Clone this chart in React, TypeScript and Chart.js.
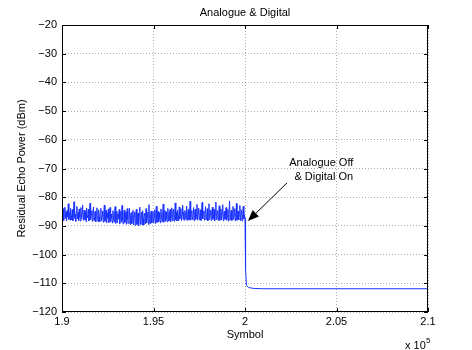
import React, { useEffect, useRef } from "react";
import { Chart, registerables } from "chart.js";

Chart.register(...registerables);

const titleText = "Analogue & Digital";
const xLabel = "Symbol";
const yLabel = "Residual Echo Power (dBm)";
const annotationLines = ["Analogue Off", "& Digital On"];

const xTicks = [190000, 195000, 200000, 205000, 210000];
const xTickLabels = ["1.9", "1.95", "2", "2.05", "2.1"];
const yTicks = [-20, -30, -40, -50, -60, -70, -80, -90, -100, -110, -120];

const noiseStart = 190000;
const noiseStep = 31.25;
const noiseValues = [
  -85.6, -87.9, -84.0, -88.1, -86.2, -83.5, -87.4, -85.1, -88.3, -84.6,
  -86.8, -82.3, -87.7, -85.4, -88.0, -83.9, -86.5, -87.8, -84.3, -88.2,
  -85.7, -81.6, -87.3, -86.0, -88.4, -84.8, -83.2, -87.6, -85.3, -88.1,
  -84.1, -86.9, -88.3, -83.6, -87.5, -85.8, -82.7, -88.0, -86.1, -84.5,
  -87.9, -85.0, -88.5, -83.8, -86.6, -87.2, -84.2, -88.3, -85.5, -82.1,
  -87.8, -86.3, -84.7, -88.4, -85.2, -83.4, -88.1, -86.7, -84.9, -88.6,
  -85.9, -83.7, -87.7, -88.5,
  -84.4, -86.8, -88.6, -85.3, -83.9, -88.2, -86.4, -84.8, -88.7, -85.7,
  -82.8, -88.4, -86.0, -84.6, -88.9, -85.5, -87.3, -84.1, -88.8, -86.2,
  -83.6, -88.5, -85.9, -87.1, -89.0, -84.7, -86.5, -88.6, -85.1, -83.3,
  -89.1, -86.6, -84.9, -88.9, -85.8, -87.5, -84.3, -89.2, -86.1, -85.0,
  -88.7, -82.9, -87.9, -89.3, -85.6, -84.5, -88.8, -86.9, -85.2, -89.4,
  -84.0, -87.6, -89.1, -85.9, -83.8, -89.5, -86.3, -85.4, -89.2, -87.0,
  -84.6, -89.6, -86.7, -85.1,
  -89.8, -85.8, -84.2, -89.5, -87.2, -85.5, -89.9, -86.0, -83.5, -89.4,
  -86.8, -85.3, -89.7, -84.7, -87.4, -89.6, -85.7, -86.4, -89.3, -84.0,
  -88.9, -86.9, -85.2, -89.5, -82.6, -87.8, -89.2, -85.9, -84.8, -89.0,
  -86.5, -85.0, -88.9, -87.1, -84.4, -89.1, -85.6, -83.2, -88.8, -86.2,
  -84.9, -88.6, -85.4, -87.3, -88.9, -84.1, -86.6, -88.5, -85.8, -82.4,
  -88.7, -86.0, -84.6, -88.4, -85.1, -87.5, -88.6, -83.9, -86.3, -88.3,
  -85.5, -84.3, -88.5, -86.8,
  -83.7, -88.2, -85.6, -84.2, -88.4, -86.1, -82.0, -87.9, -85.3, -88.3,
  -84.5, -86.7, -88.1, -83.4, -87.6, -85.8, -84.0, -88.2, -86.3, -82.8,
  -87.8, -85.1, -88.0, -84.6, -86.5, -87.7, -83.1, -88.1, -85.9, -84.3,
  -87.9, -86.0, -81.4, -88.0, -85.4, -84.7, -87.8, -86.6, -83.6, -88.2,
  -85.0, -84.1, -87.7, -86.2, -82.5, -88.0, -85.7, -83.8, -87.9, -86.4,
  -84.4, -88.1, -85.2, -81.8, -87.6, -86.0, -84.8, -88.0, -85.5, -83.3,
  -87.8, -86.7, -84.0, -88.2,
  -85.3, -82.3, -87.9, -86.1, -84.5, -88.1, -85.0, -83.5, -87.7, -86.5,
  -84.2, -88.2, -85.7, -81.7, -87.8, -86.0, -84.7, -88.0, -85.4, -83.0,
  -88.1, -86.3, -84.1, -87.9, -85.8, -82.6, -88.2, -86.2, -84.9, -87.7,
  -85.1, -83.6, -88.0, -86.6, -84.3, -88.3, -85.6, -81.3, -87.9, -86.0,
  -84.6, -88.1, -85.2, -83.2, -87.8, -86.4, -84.0, -88.2, -85.9, -82.2,
  -88.0, -86.1, -84.8, -87.9, -85.3, -82.9, -88.1, -86.5, -84.4, -88.3,
  -85.7, -83.1, -87.6, -86.2,
];
const tailX = [200000, 200030, 200080, 200200, 200500, 201000, 210000];
const tailY = [-87.5, -105.0, -110.8, -111.5, -111.8, -111.9, -111.9];

// annotation anchors in data units
const arrowTip = { x: 200160, y: -88.3 };
const arrowTail = { x: 202300, y: -75.0 };
const textAnchor1 = { x: 202420, y: -68.2 };
const textAnchor2 = { x: 202700, y: -72.8 };

const FONT = "'Liberation Sans', Arial, Helvetica, sans-serif";

export default function App() {
  const ref = useRef<HTMLCanvasElement | null>(null);

  useEffect(() => {
    document.body.style.margin = "0";
    const canvas = ref.current;
    if (!canvas) return;

    const points: { x: number; y: number }[] = noiseValues.map((v, i) => ({
      x: noiseStart + i * noiseStep,
      y: v,
    }));
    tailX.forEach((x, i) => points.push({ x, y: tailY[i] }));

    const decor = {
      id: "decor",
      afterDraw(chart: any) {
        const ctx = chart.ctx as CanvasRenderingContext2D;
        const { left, right, top, bottom } = chart.chartArea;
        const xs = chart.scales.x;
        const ys = chart.scales.y;
        ctx.save();
        // box
        ctx.strokeStyle = "#000";
        ctx.lineWidth = 1;
        ctx.strokeRect(Math.round(left) + 0.5, Math.round(top) + 0.5, Math.round(right - left) - 1, Math.round(bottom - top) - 1);
        // inner ticks
        ctx.beginPath();
        xTicks.forEach((t) => {
          const px = Math.round(xs.getPixelForValue(t)) + 0.5;
          ctx.moveTo(px, bottom);
          ctx.lineTo(px, bottom - 4);
          ctx.moveTo(px, top);
          ctx.lineTo(px, top + 4);
        });
        yTicks.forEach((t) => {
          const py = Math.round(ys.getPixelForValue(t)) + 0.5;
          ctx.moveTo(left, py);
          ctx.lineTo(left + 4, py);
          ctx.moveTo(right, py);
          ctx.lineTo(right - 4, py);
        });
        ctx.stroke();

        ctx.fillStyle = "#000";
        ctx.font = `11px ${FONT}`;
        ctx.textAlign = "center";
        ctx.textBaseline = "middle";
        const cx = (left + right) / 2;
        ctx.fillText(titleText, cx, top - 12);
        ctx.fillText(xLabel, cx, bottom + 23);
        // x 10^5
        ctx.textAlign = "left";
        ctx.fillText("x 10", right - 23, bottom + 34);
        ctx.font = `8px ${FONT}`;
        ctx.fillText("5", right - 2, bottom + 29);
        // y label
        ctx.font = `11px ${FONT}`;
        ctx.save();
        ctx.translate(22, (top + bottom) / 2);
        ctx.rotate(-Math.PI / 2);
        ctx.textAlign = "center";
        ctx.fillText(yLabel, 0, 0);
        ctx.restore();

        // annotation text
        ctx.textAlign = "left";
        ctx.fillText(annotationLines[0], xs.getPixelForValue(textAnchor1.x), ys.getPixelForValue(textAnchor1.y));
        ctx.fillText(annotationLines[1], xs.getPixelForValue(textAnchor2.x), ys.getPixelForValue(textAnchor2.y));

        // arrow
        const tx = xs.getPixelForValue(arrowTip.x);
        const ty = ys.getPixelForValue(arrowTip.y);
        const sx = xs.getPixelForValue(arrowTail.x);
        const sy = ys.getPixelForValue(arrowTail.y);
        const ang = Math.atan2(ty - sy, tx - sx);
        const headLen = 11;
        const headW = 4.5;
        const bx = tx - headLen * Math.cos(ang);
        const by = ty - headLen * Math.sin(ang);
        ctx.beginPath();
        ctx.moveTo(sx, sy);
        ctx.lineTo(bx, by);
        ctx.stroke();
        ctx.beginPath();
        ctx.moveTo(tx, ty);
        ctx.lineTo(bx + headW * Math.sin(ang), by - headW * Math.cos(ang));
        ctx.lineTo(bx - headW * Math.sin(ang), by + headW * Math.cos(ang));
        ctx.closePath();
        ctx.fill();
        ctx.restore();
      },
    };

    const chart = new Chart(canvas, {
      type: "line",
      data: {
        datasets: [
          {
            data: points,
            borderColor: "rgb(25,50,255)",
            borderWidth: 1,
            pointRadius: 0,
            tension: 0,
            fill: false,
          },
        ],
      },
      options: {
        animation: false,
        responsive: false,
        devicePixelRatio: 1,
        layout: { padding: { top: 25, right: 44, left: 0, bottom: 0 } },
        plugins: { legend: { display: false }, tooltip: { enabled: false }, title: { display: false } },
        scales: {
          x: {
            type: "linear",
            min: 190000,
            max: 210000,
            afterFit: (s: any) => {
              s.height = 38;
            },
            afterBuildTicks: (s: any) => {
              s.ticks = xTicks.map((v) => ({ value: v }));
            },
            ticks: {
              autoSkip: false,
              maxRotation: 0,
              padding: 3,
              color: "#000",
              font: { family: FONT, size: 11 },
              callback: (v: any) => {
                const i = xTicks.indexOf(Number(v));
                return i >= 0 ? xTickLabels[i] : "";
              },
            },
            grid: { color: "rgba(0,0,0,0.32)", drawTicks: false, lineWidth: 1 },
            border: { display: false, dash: [1, 2] },
          },
          y: {
            type: "linear",
            min: -120,
            max: -20,
            afterFit: (s: any) => {
              s.width = 62;
            },
            afterBuildTicks: (s: any) => {
              s.ticks = yTicks.map((v) => ({ value: v }));
            },
            ticks: {
              autoSkip: false,
              padding: 5,
              color: "#000",
              font: { family: FONT, size: 11 },
              callback: (v: any) => String(v).replace("-", "\u2212"),
            },
            grid: { color: "rgba(0,0,0,0.32)", drawTicks: false, lineWidth: 1 },
            border: { display: false, dash: [1, 2] },
          },
        },
      },
      plugins: [decor],
    });

    return () => chart.destroy();
  }, []);

  return <canvas ref={ref} width={472} height={350} style={{ display: "block", width: 472, height: 350 }} />;
}
